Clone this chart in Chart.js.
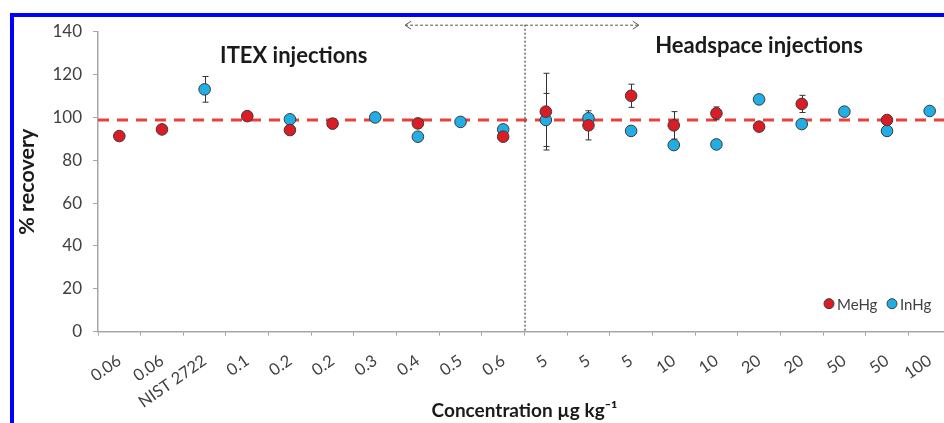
<!DOCTYPE html>
<html>
<head>
<meta charset="utf-8">
<script src="https://cdn.jsdelivr.net/npm/chart.js@4.4.1/dist/chart.umd.min.js"></script>
<style>
  html, body { margin:0; padding:0; background:#fff; overflow:hidden; }
  #wrap { position:relative; width:944px; height:423px; overflow:hidden; }
  #frame { position:absolute; left:10px; top:13px; width:940px; height:420px;
           border-left:4px solid #0000ff; border-top:4px solid #0000ff; pointer-events:none; }
  canvas { position:absolute; left:0; top:0; }
</style>
</head>
<body>
<div id="wrap">
  <canvas id="c" width="960" height="423"></canvas>
  <div id="frame"></div>
</div>
<script>
const categories = ['0.06','0.06','NIST 2722','0.1','0.2','0.2','0.3','0.4','0.5','0.6','5','5','5','10','10','20','20','50','50','100'];
const seriesNames = ['MeHg','InHg'];
const meHg   = [91.3, 94.4, null, 100.6, 94.1, 97.1, null, 97.2, null, 91.0, 102.7, 96.3, 110.1, 96.3, 101.9, 95.7, 106.3, null, 98.8, null];
const inHg   = [null, null, 113.1, null, 99.1, null, 100.0, 91.0, 97.9, 94.4, 98.8, 99.6, 93.7, 87.1, 87.4, 108.4, 96.9, 102.7, 93.7, 103.0];
const meHgErr = [null, null, null, 1, null, null, null, null, null, null, 17.9, 6.8, 5.4, 6.4, 3.0, null, 4.0, null, 1.5, null];
const inHgErr = [null, null, 6.0, null, null, null, null, null, null, null, 12.4, null, null, null, null, null, null, null, null, null];
const meanRecovery = 98.8;
const yTicks = [0, 20, 40, 60, 80, 100, 120, 140];
const sectionLabels = ['ITEX injections', 'Headspace injections'];
const xTitle = 'Concentration µg kg⁻¹';
const yTitle = '% recovery';

const RED = '#dc1c24', BLUE = '#22aee4', EDGE = '#3a3a3a', AXIS = '#a6a6a6', TXT = '#404040';

const overlays = {
  id: 'overlays',
  beforeDatasetsDraw(chart) {
    const {ctx, chartArea: a, scales: {x, y}} = chart;
    ctx.save();
    const ym = y.getPixelForValue(meanRecovery);
    ctx.strokeStyle = '#e8403c';
    ctx.lineWidth = 3;
    ctx.setLineDash([11, 8]);
    ctx.beginPath(); ctx.moveTo(a.left, ym); ctx.lineTo(a.right, ym); ctx.stroke();
    const xd = x.getPixelForValue(9.5);
    ctx.strokeStyle = '#222';
    ctx.lineWidth = 1;
    ctx.setLineDash([2, 2]);
    ctx.beginPath(); ctx.moveTo(xd + 0.5, a.top - 7); ctx.lineTo(xd + 0.5, a.bottom); ctx.stroke();
    ctx.setLineDash([]);
    ctx.strokeStyle = '#333';
    ctx.lineWidth = 1;
    const drawErr = (vals, errs) => {
      vals.forEach((v, i) => {
        const e = errs[i];
        if (v == null || e == null) return;
        const px = Math.round(x.getPixelForValue(i)) + 0.5;
        const t = y.getPixelForValue(v + e), b = y.getPixelForValue(v - e);
        ctx.beginPath();
        ctx.moveTo(px, t); ctx.lineTo(px, b);
        ctx.moveTo(px - 3, t); ctx.lineTo(px + 3, t);
        ctx.moveTo(px - 3, b); ctx.lineTo(px + 3, b);
        ctx.stroke();
      });
    };
    drawErr(inHg, inHgErr);
    drawErr(meHg, meHgErr);
    ctx.restore();
  },
  afterDraw(chart) {
    const {ctx, chartArea: a, scales: {x, y}} = chart;
    ctx.save();
    ctx.fillStyle = '#1a1a1a';
    ctx.font = 'bold 22px Lato';
    ctx.textAlign = 'center';
    ctx.textBaseline = 'middle';
    ctx.fillText(sectionLabels[0], x.getPixelForValue(4.09), y.getPixelForValue(128.7));
    ctx.fillText(sectionLabels[1], x.getPixelForValue(15.0), y.getPixelForValue(133.3));
    const ay = a.top - 7 + 0.5;
    const x1 = x.getPixelForValue(6.7), x2 = x.getPixelForValue(12.18);
    ctx.strokeStyle = '#555';
    ctx.lineWidth = 1;
    ctx.setLineDash([3, 2]);
    ctx.beginPath(); ctx.moveTo(x1, ay); ctx.lineTo(x2, ay); ctx.stroke();
    ctx.setLineDash([]);
    ctx.beginPath();
    ctx.moveTo(x1 + 6, ay - 4); ctx.lineTo(x1, ay); ctx.lineTo(x1 + 6, ay + 4);
    ctx.moveTo(x2 - 6, ay - 4); ctx.lineTo(x2, ay); ctx.lineTo(x2 - 6, ay + 4);
    ctx.stroke();
    const ly = a.bottom - 28;
    const items = [{name: seriesNames[0], c: RED, mx: a.right - 122}, {name: seriesNames[1], c: BLUE, mx: a.right - 59}];
    ctx.font = '15px Lato';
    ctx.textAlign = 'left';
    items.forEach(it => {
      ctx.beginPath(); ctx.arc(it.mx, ly, 5, 0, Math.PI * 2);
      ctx.fillStyle = it.c; ctx.fill();
      ctx.strokeStyle = EDGE; ctx.lineWidth = 1; ctx.stroke();
      ctx.fillStyle = TXT;
      ctx.fillText(it.name, it.mx + 8, ly + 1);
    });
    ctx.restore();
  }
};

new Chart(document.getElementById('c'), {
  type: 'line',
  data: {
    labels: categories,
    datasets: [
      {label: seriesNames[0], data: meHg, showLine: false, pointRadius: 5.8, pointHoverRadius: 5.8,
       pointBackgroundColor: RED, pointBorderColor: EDGE, pointBorderWidth: 1, order: 0},
      {label: seriesNames[1], data: inHg, showLine: false, pointRadius: 5.8, pointHoverRadius: 5.8,
       pointBackgroundColor: BLUE, pointBorderColor: EDGE, pointBorderWidth: 1, order: 1}
    ]
  },
  options: {
    responsive: false,
    animation: false,
    layout: {padding: {left: 0, right: 9, top: 31.7, bottom: 0}},
    plugins: {legend: {display: false}, tooltip: {enabled: false}},
    scales: {
      x: {
        offset: true,
        grid: {offset: true, drawOnChartArea: false, drawTicks: true, tickLength: 4, color: AXIS},
        border: {display: true, color: AXIS, width: 1.5},
        ticks: {autoSkip: false, maxRotation: 35, minRotation: 35, padding: 15, color: TXT, font: {family: 'Lato', size: 16.5}},
        title: {display: true, text: xTitle, color: '#1a1a1a', font: {family: 'Lato', size: 19, weight: 'bold'}, padding: {top: 0, bottom: 0.5}},
        afterFit(s) { s.height = 91.3; }
      },
      y: {
        min: 0, max: 140,
        afterBuildTicks(s) { s.ticks = yTicks.map(v => ({value: v})); },
        grid: {drawOnChartArea: false, drawTicks: true, tickLength: 5, color: AXIS},
        border: {display: true, color: AXIS, width: 1.5},
        ticks: {padding: 11, color: TXT, font: {family: 'Lato', size: 17}},
        title: {display: true, text: yTitle, color: '#1a1a1a', font: {family: 'Lato', size: 21.5, weight: 'bold'}, padding: {top: 14, bottom: 0}},
        afterFit(s) { s.width = 98; }
      }
    }
  },
  plugins: [overlays]
});
</script>
</body>
</html>
